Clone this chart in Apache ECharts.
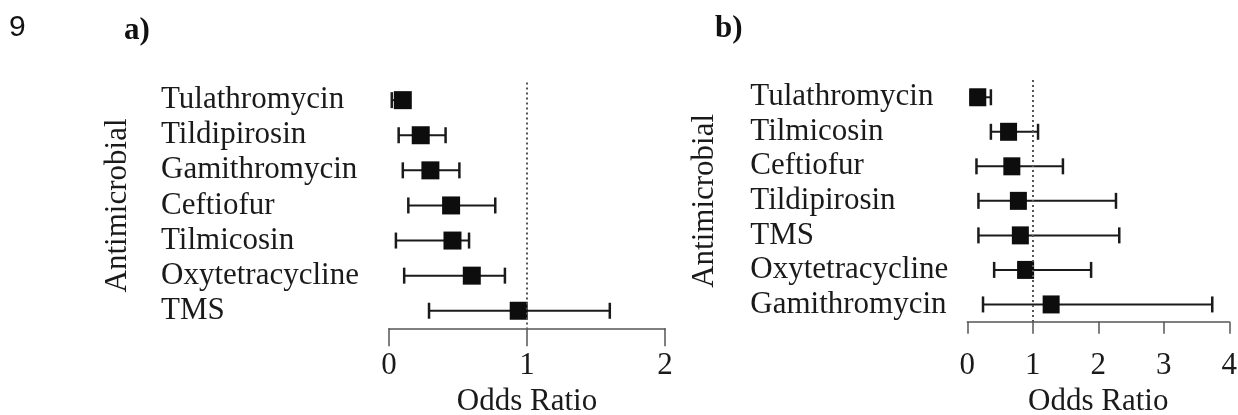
<!DOCTYPE html>
<html>
<head>
<meta charset="utf-8">
<script src="https://cdn.jsdelivr.net/npm/echarts@6/dist/echarts.min.js"></script>
<style>
html,body{margin:0;padding:0;background:#fff;}
#chart{width:1238px;height:415px;}
</style>
</head>
<body>
<div id="chart"></div>
<script>
// Panel a
var catA = ['Tulathromycin','Tildipirosin','Gamithromycin','Ceftiofur','Tilmicosin','Oxytetracycline','TMS'];
var orA = [0.10, 0.23, 0.30, 0.45, 0.46, 0.60, 0.94];
var lowA = [0.02, 0.07, 0.10, 0.14, 0.05, 0.11, 0.29];
var highA = [0.15, 0.41, 0.51, 0.77, 0.58, 0.84, 1.60];
var ticksA = [0, 1, 2];

// Panel b
var catB = ['Tulathromycin','Tilmicosin','Ceftiofur','Tildipirosin','TMS','Oxytetracycline','Gamithromycin'];
var orB = [0.16, 0.63, 0.68, 0.78, 0.81, 0.89, 1.28];
var lowB = [0.05, 0.36, 0.14, 0.17, 0.17, 0.41, 0.24];
var highB = [0.36, 1.08, 1.46, 2.27, 2.32, 1.89, 3.74];
var ticksB = [0, 1, 2, 3, 4];

var serif = 'Liberation Serif';
var ink = '#0d0d0d';
var axisColor = '#555';

function ciData(low, high) {
  return low.map(function (l, i) { return [i, l, high[i]]; });
}
function ptData(or) {
  return or.map(function (v, i) { return [v, i]; });
}
function renderCI(params, api) {
  var idx = api.value(0);
  var p1 = api.coord([api.value(1), idx]);
  var p2 = api.coord([api.value(2), idx]);
  var h = 8;
  return {
    type: 'group',
    children: [
      { type: 'line', shape: { x1: p1[0], y1: p1[1], x2: p2[0], y2: p2[1] }, style: { stroke: '#1a1a1a', lineWidth: 2 } },
      { type: 'line', shape: { x1: p1[0], y1: p1[1] - h, x2: p1[0], y2: p1[1] + h }, style: { stroke: '#1a1a1a', lineWidth: 2.5 } },
      { type: 'line', shape: { x1: p2[0], y1: p2[1] - h, x2: p2[0], y2: p2[1] + h }, style: { stroke: '#1a1a1a', lineWidth: 2.5 } }
    ]
  };
}

function xAxisCfg(idx, maxV, tickLen, labelMargin, nameGap) {
  return {
    gridIndex: idx, type: 'value', min: 0, max: maxV, interval: 1,
    axisLine: { show: true, onZero: false, lineStyle: { color: axisColor, width: 1.5 } },
    axisTick: { show: true, inside: false, length: tickLen, lineStyle: { color: axisColor, width: 1.5 } },
    splitLine: { show: false },
    axisLabel: { color: '#1a1a1a', fontFamily: serif, fontSize: 31, margin: labelMargin },
    name: 'Odds Ratio', nameLocation: 'middle', nameGap: nameGap,
    nameTextStyle: { color: '#1a1a1a', fontFamily: serif, fontSize: 31 }
  };
}
function yAxisCfg(idx, cats, labelMargin, nameGap) {
  return {
    gridIndex: idx, type: 'category', data: cats, inverse: true, boundaryGap: true,
    axisLine: { show: false }, axisTick: { show: false }, splitLine: { show: false },
    axisLabel: { interval: 0, align: 'left', margin: labelMargin, padding: [4, 0, 0, 0], color: '#1a1a1a', fontFamily: serif, fontSize: 31 },
    name: 'Antimicrobial', nameLocation: 'middle', nameRotate: 90, nameGap: nameGap,
    nameTextStyle: { color: '#1a1a1a', fontFamily: serif, fontSize: 31 }
  };
}
function refLine() {
  return {
    silent: true, symbol: 'none', label: { show: false },
    lineStyle: { color: '#555', width: 2, type: [2, 3] },
    data: [{ xAxis: 1 }]
  };
}

var chart = echarts.init(document.getElementById('chart'), null, { renderer: 'canvas' });
chart.setOption({
  animation: false,
  backgroundColor: '#fff',
  grid: [
    { left: 389, top: 82.6, width: 276, height: 245.7, outerBoundsMode: 'none', containLabel: false },
    { left: 967.3, top: 80, width: 262, height: 241.7, outerBoundsMode: 'none', containLabel: false }
  ],
  xAxis: [
    xAxisCfg(0, 2, 18, 22, 50),
    xAxisCfg(1, 4, 12, 29, 56)
  ],
  yAxis: [
    yAxisCfg(0, catA, 228, 256),
    yAxisCfg(1, catB, 217, 247)
  ],
  graphic: [
    { type: 'text', left: 9, top: 13, style: { text: '9', fontFamily: 'Liberation Sans', fontSize: 30, fill: '#111' } },
    { type: 'text', left: 124, top: 15, style: { text: 'a)', fontFamily: serif, fontWeight: 'bold', fontSize: 31, fill: '#111' } },
    { type: 'text', left: 715, top: 13, style: { text: 'b)', fontFamily: serif, fontWeight: 'bold', fontSize: 31, fill: '#111' } }
  ],
  series: [
    { type: 'custom', xAxisIndex: 0, yAxisIndex: 0, renderItem: renderCI, data: ciData(lowA, highA),
      dimensions: [{ name: 'cat', type: 'ordinal' }, 'low', 'high'], encode: { y: 0, x: [1, 2] }, z: 2 },
    { type: 'scatter', xAxisIndex: 0, yAxisIndex: 0, symbol: 'rect', symbolSize: [18, 18], itemStyle: { color: ink, opacity: 1 }, data: ptData(orA), markLine: refLine(), z: 3 },
    { type: 'custom', xAxisIndex: 1, yAxisIndex: 1, renderItem: renderCI, data: ciData(lowB, highB),
      dimensions: [{ name: 'cat', type: 'ordinal' }, 'low', 'high'], encode: { y: 0, x: [1, 2] }, z: 2 },
    { type: 'scatter', xAxisIndex: 1, yAxisIndex: 1, symbol: 'rect', symbolSize: [17, 18], itemStyle: { color: ink, opacity: 1 }, data: ptData(orB), markLine: refLine(), z: 3 }
  ]
});
</script>
</body>
</html>
